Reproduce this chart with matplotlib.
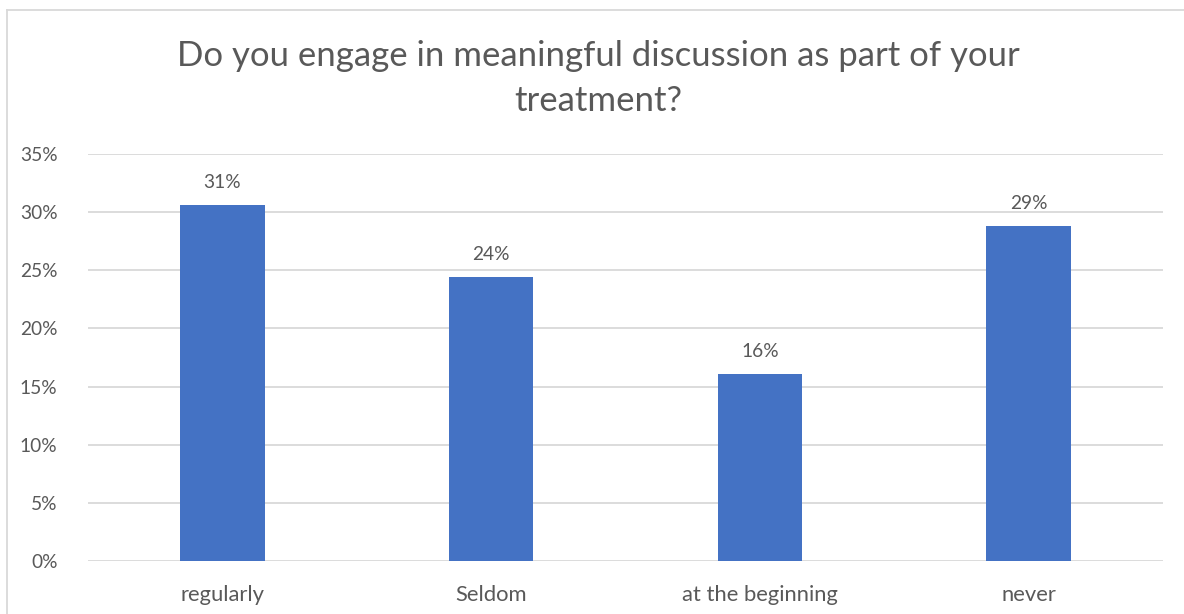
import matplotlib

matplotlib.use("Agg")
import matplotlib.pyplot as plt
from matplotlib.lines import Line2D
import numpy as np

categories = ["regularly", "Seldom", "at the beginning", "never"]
shares = [30.6, 24.4, 16.1, 28.8]  # percent of respondents
y_ticks = [0, 5, 10, 15, 20, 25, 30, 35]

TEXT = "#595959"
GRID = "#D9D9D9"
BAR = "#4472C4"

plt.rcParams["font.family"] = ["Lato", "DejaVu Sans"]

fig = plt.figure(figsize=(11.84, 6.14), dpi=100)
ax = fig.add_axes([88 / 1184, 1 - 561 / 614, (1163 - 88) / 1184, (561 - 154) / 614])

x = np.arange(len(categories))
ax.bar(x, shares, width=0.315, color=BAR, zorder=3)
for xi, v in zip(x, shares):
    ax.text(xi, v + 1.2, f"{v:.0f}%", ha="center", va="bottom", fontsize=13.8, color=TEXT)

ax.set_xlim(-0.5, len(categories) - 0.5)
ax.set_ylim(0, 35)
ax.set_yticks(y_ticks)
ax.set_yticklabels([f"{t}%" for t in y_ticks])
ax.set_xticks(x)
ax.set_xticklabels(categories)
ax.tick_params(axis="both", length=0, labelcolor=TEXT)
ax.tick_params(axis="y", pad=22, labelsize=13.8)
ax.tick_params(axis="x", pad=17, labelsize=15.8)
ax.grid(axis="y", color=GRID, linewidth=1.3, zorder=0)
for side in ax.spines.values():
    side.set_visible(False)

fig.text(0.505, 1 - 56 / 614, "Do you engage in meaningful discussion as part of your",
         ha="center", va="center", fontsize=25, color=TEXT)
fig.text(0.505, 1 - 101 / 614, "treatment?",
         ha="center", va="center", fontsize=25, color=TEXT)

# chart frame along the top and left edges
fig.add_artist(Line2D([7 / 1184, 7 / 1184], [0, 1 - 10 / 614], transform=fig.transFigure,
                      color=GRID, linewidth=1.3))
fig.add_artist(Line2D([7 / 1184, 1], [1 - 10 / 614, 1 - 10 / 614], transform=fig.transFigure,
                      color=GRID, linewidth=1.3))

fig.savefig("out.png", dpi=100)
